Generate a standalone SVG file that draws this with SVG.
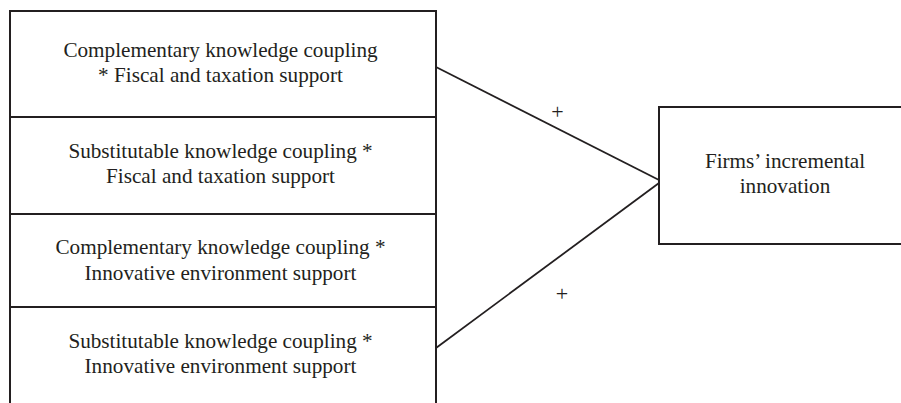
<svg xmlns="http://www.w3.org/2000/svg" width="901" height="403" viewBox="0 0 901 403">
<style>
.box{fill:#fff;stroke:#231f20;stroke-width:2}
.lbl{font-family:"Liberation Serif","Times New Roman",serif;font-size:21.2px;fill:#231f20;text-anchor:middle}
.sign{font-family:"Liberation Serif","Times New Roman",serif;font-size:22px;fill:#231f20;text-anchor:middle}
.edge{stroke:#231f20;stroke-width:1.8;fill:none}
</style>
<rect width="901" height="403" fill="#fff"/>
<g id="node-ckc-fiscal">
<rect class="box" x="10" y="11" width="426" height="106"/>
<text class="lbl" x="220.5" y="57">Complementary knowledge coupling</text>
<text class="lbl" x="220.5" y="82">* Fiscal and taxation support</text>
</g>
<g id="node-skc-fiscal">
<rect class="box" x="10" y="117" width="426" height="97"/>
<text class="lbl" x="220.5" y="158">Substitutable knowledge coupling *</text>
<text class="lbl" x="220.5" y="183">Fiscal and taxation support</text>
</g>
<g id="node-ckc-env">
<rect class="box" x="10" y="214" width="426" height="93"/>
<text class="lbl" x="220.5" y="254">Complementary knowledge coupling *</text>
<text class="lbl" x="220.5" y="280">Innovative environment support</text>
</g>
<g id="node-skc-env">
<rect class="box" x="10" y="307" width="426" height="100"/>
<text class="lbl" x="220.5" y="348">Substitutable knowledge coupling *</text>
<text class="lbl" x="220.5" y="373">Innovative environment support</text>
</g>
<g id="node-incremental">
<rect class="box" x="659" y="107" width="260" height="137"/>
<text class="lbl" x="785" y="168">Firms’ incremental</text>
<text class="lbl" x="785" y="193">innovation</text>
</g>
<g id="connectors">
<line class="edge" x1="436" y1="67" x2="659" y2="180"/>
<line class="edge" x1="436" y1="348" x2="659" y2="183"/>
<text class="sign" x="557.5" y="119">+</text>
<text class="sign" x="562" y="301">+</text>
</g>
</svg>
